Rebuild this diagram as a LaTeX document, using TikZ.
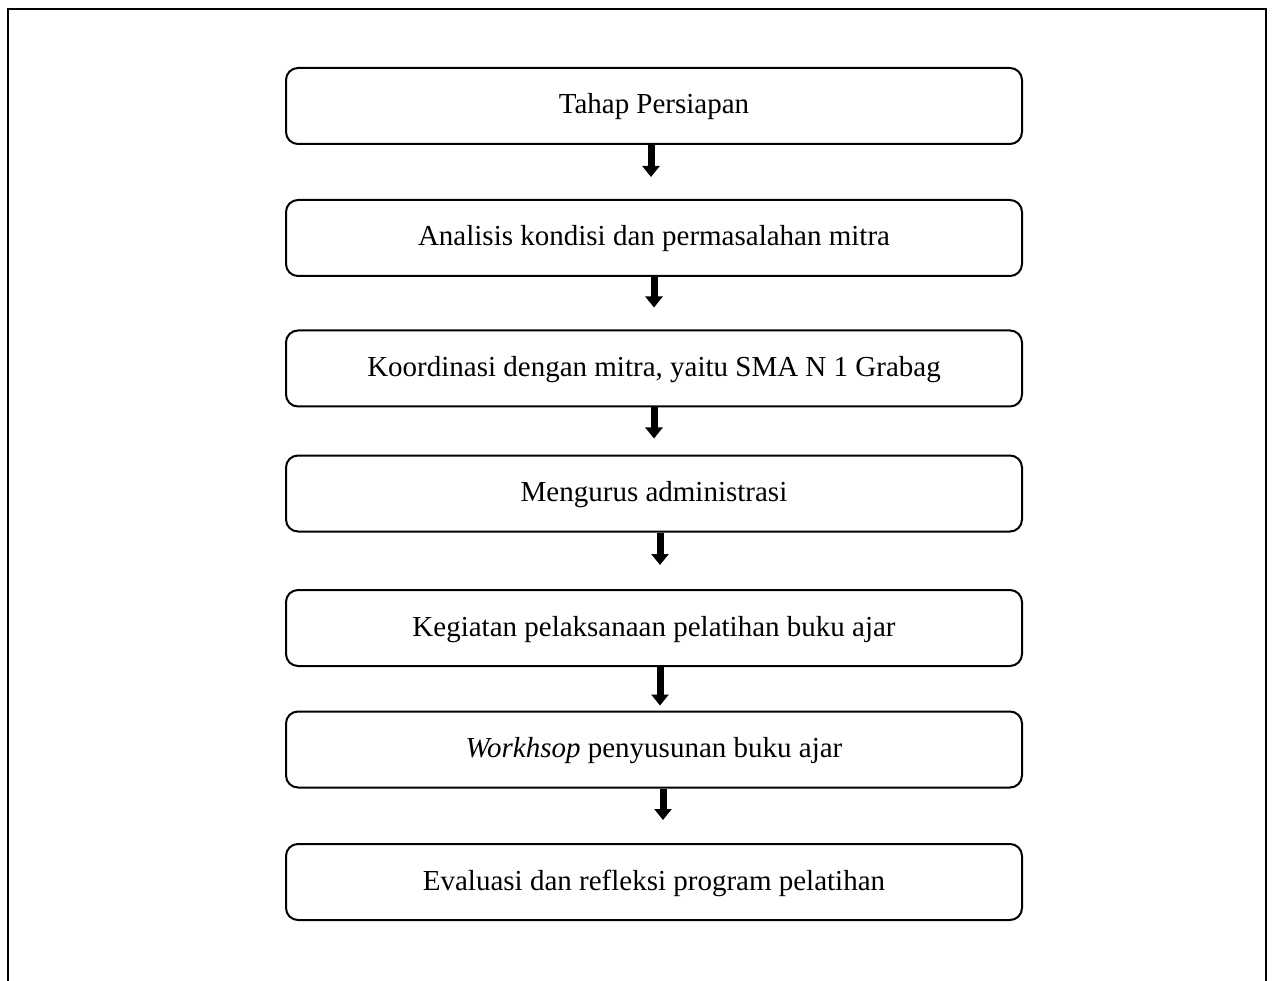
\documentclass[tikz,border=0pt]{standalone}
\usepackage{fontspec}
\setmainfont{Liberation Serif}
\usetikzlibrary{arrows.meta}
\begin{document}
\begin{tikzpicture}[x=1pt,y=-1pt,
  stepbox/.style={draw=black,line width=2pt,rounded corners=12pt,minimum width=736pt,minimum height=76pt,inner sep=0pt,text height=21pt,text depth=5pt,font=\fontsize{29}{34}\selectfont},
  flowarrow/.style={line width=7pt,-{Triangle[width=17pt,length=11pt]}}]
\useasboundingbox (0,0) rectangle (1272,981);
\fill[white] (0,0) rectangle (1272,981);
\draw[line width=2.5pt] (8,981) -- (8,9) -- (1266,9) -- (1266,981);
\node[stepbox] (b1) at (654,106) {Tahap Persiapan};
\node[stepbox] (b2) at (654,238) {Analisis kondisi dan permasalahan mitra};
\node[stepbox] (b3) at (654,368.5) {Koordinasi dengan mitra, yaitu SMA N 1 Grabag};
\node[stepbox] (b4) at (654,493.5) {Mengurus administrasi};
\node[stepbox] (b5) at (654,628) {Kegiatan pelaksanaan pelatihan buku ajar};
\node[stepbox] (b6) at (654,749.5) {\textit{Workhsop} penyusunan buku ajar};
\node[stepbox] (b7) at (654,882) {Evaluasi dan refleksi program pelatihan};
\draw[flowarrow,shorten >=22pt] ([xshift=-3pt]b1.south) -- ([xshift=-3pt]b2.north);
\draw[flowarrow,shorten >=22pt] (b2.south) -- (b3.north);
\draw[flowarrow,shorten >=16pt] (b3.south) -- (b4.north);
\draw[flowarrow,shorten >=24pt] ([xshift=6pt]b4.south) -- ([xshift=6pt]b5.north);
\draw[flowarrow,shorten >=5pt] ([xshift=6pt]b5.south) -- ([xshift=6pt]b6.north);
\draw[flowarrow,shorten >=23pt] ([xshift=9pt]b6.south) -- ([xshift=9pt]b7.north);
\end{tikzpicture}
\end{document}
